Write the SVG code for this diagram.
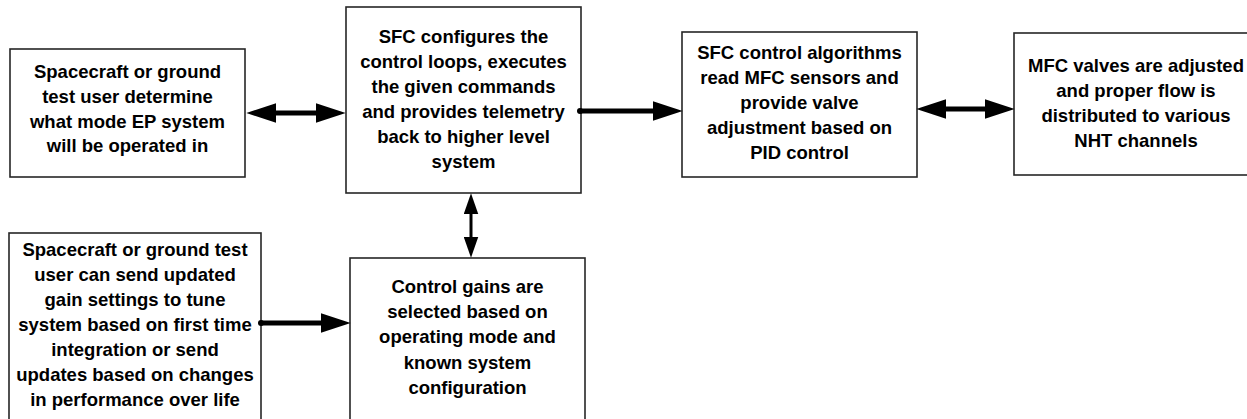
<svg xmlns="http://www.w3.org/2000/svg" width="1247" height="419" viewBox="0 0 1247 419">
<style>
.box{fill:#fff;stroke:#262626;stroke-width:1.6}
.t{font-family:"Liberation Sans",Arial,sans-serif;font-weight:bold;font-size:18.5px;fill:#000;text-anchor:middle}
.thick{stroke:#000;stroke-width:5;fill:none}
.thin{stroke:#000;stroke-width:3;fill:none}
</style>
<defs>
<marker id="ah" markerUnits="userSpaceOnUse" markerWidth="30" markerHeight="20" viewBox="0 0 29 19" refX="9" refY="9.5" orient="auto-start-reverse">
<path d="M0,0 L29,9.5 L0,19 z" fill="#000"/>
</marker>
<marker id="ahs" markerUnits="userSpaceOnUse" markerWidth="21" markerHeight="15" viewBox="0 0 20 14" refX="6" refY="7" orient="auto-start-reverse">
<path d="M0,0 L20,7 L0,14 z" fill="#000"/>
</marker>
</defs>
<rect width="1247" height="419" fill="#fff"/>
<g id="n1">
<rect class="box" x="10" y="49" width="235" height="128"/>
<text class="t" x="127.5" y="78">Spacecraft or ground</text>
<text class="t" x="127.5" y="103">test user determine</text>
<text class="t" x="127.5" y="128">what mode EP system</text>
<text class="t" x="127.5" y="152">will be operated in</text>
</g>
<g id="n2">
<rect class="box" x="346" y="7" width="235" height="186"/>
<text class="t" x="463.5" y="43">SFC configures the</text>
<text class="t" x="463.5" y="68">control loops, executes</text>
<text class="t" x="463.5" y="93">the given commands</text>
<text class="t" x="463.5" y="118">and provides telemetry</text>
<text class="t" x="463.5" y="143">back to higher level</text>
<text class="t" x="463.5" y="168">system</text>
</g>
<g id="n3">
<rect class="box" x="682" y="32" width="235" height="145"/>
<text class="t" x="799.5" y="59">SFC control algorithms</text>
<text class="t" x="799.5" y="84">read MFC sensors and</text>
<text class="t" x="799.5" y="109">provide valve</text>
<text class="t" x="799.5" y="134">adjustment based on</text>
<text class="t" x="799.5" y="159">PID control</text>
</g>
<g id="n4">
<rect class="box" x="1014" y="33" width="244" height="142"/>
<text class="t" x="1136" y="72">MFC valves are adjusted</text>
<text class="t" x="1136" y="97">and proper flow is</text>
<text class="t" x="1136" y="122">distributed to various</text>
<text class="t" x="1136" y="147">NHT channels</text>
</g>
<g id="n5">
<rect class="box" x="9" y="233" width="252" height="200"/>
<text class="t" x="135" y="256">Spacecraft or ground test</text>
<text class="t" x="135" y="281">user can send updated</text>
<text class="t" x="135" y="306">gain settings to tune</text>
<text class="t" x="135" y="331">system based on first time</text>
<text class="t" x="135" y="356">integration or send</text>
<text class="t" x="135" y="381">updates based on changes</text>
<text class="t" x="135" y="406">in performance over life</text>
</g>
<g id="n6">
<rect class="box" x="350" y="258" width="235" height="175"/>
<text class="t" x="467.5" y="293">Control gains are</text>
<text class="t" x="467.5" y="318">selected based on</text>
<text class="t" x="467.5" y="343">operating mode and</text>
<text class="t" x="467.5" y="369">known system</text>
<text class="t" x="467.5" y="394">configuration</text>
</g>
<g id="connectors">
<line class="thick" x1="267" y1="113" x2="325" y2="113" marker-start="url(#ah)" marker-end="url(#ah)"/>
<line class="thick" x1="580" y1="111" x2="662" y2="111" marker-end="url(#ah)"/>
<circle cx="580" cy="111" r="3" fill="#000"/>
<line class="thick" x1="937" y1="109" x2="994" y2="109" marker-start="url(#ah)" marker-end="url(#ah)"/>
<line class="thick" x1="261" y1="323" x2="330" y2="323" marker-end="url(#ah)"/>
<circle cx="261" cy="323" r="3" fill="#000"/>
<line class="thin" x1="471" y1="208" x2="471" y2="243" marker-start="url(#ahs)" marker-end="url(#ahs)"/>
</g>
</svg>
